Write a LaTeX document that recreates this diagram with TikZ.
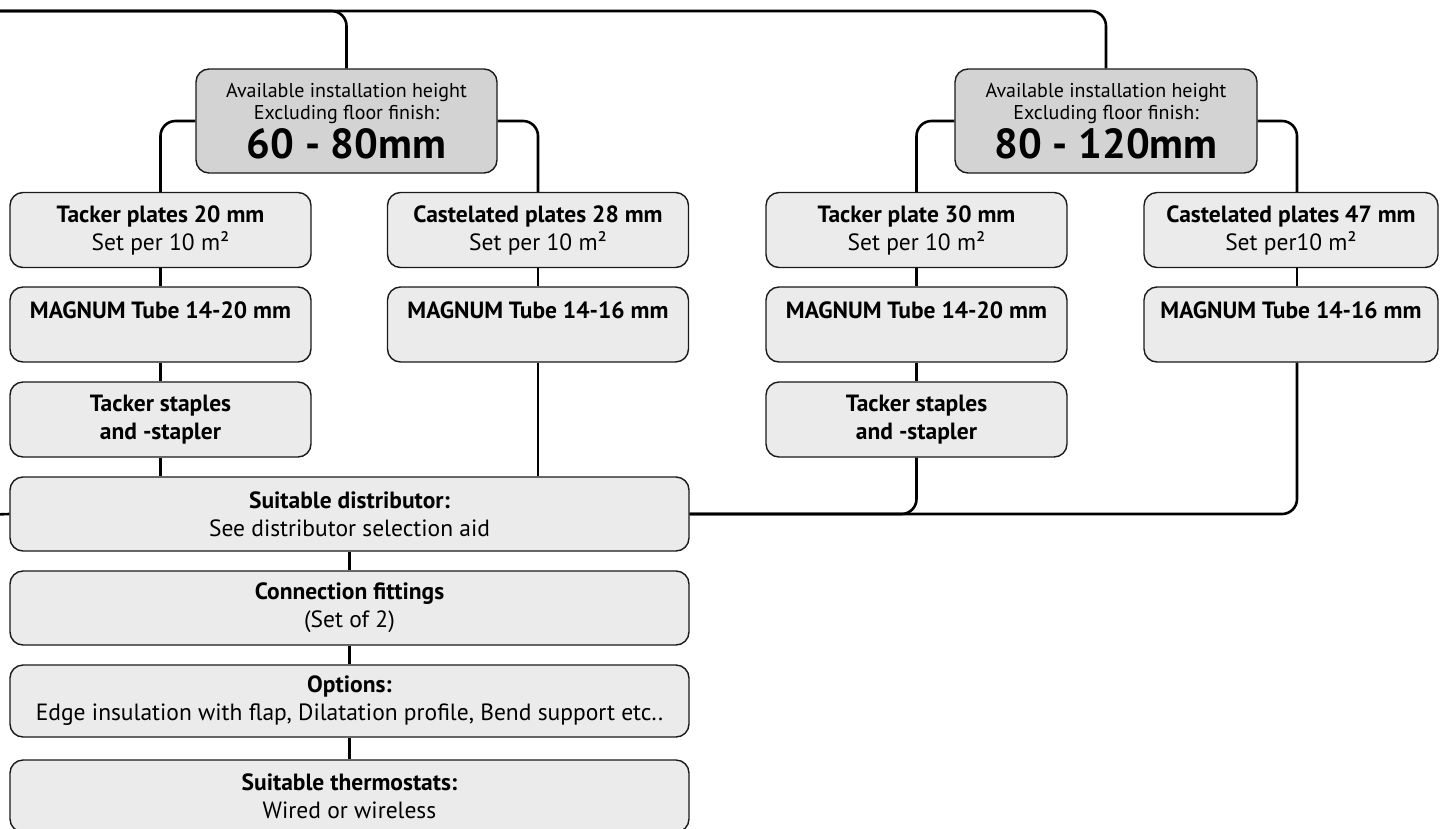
\documentclass[tikz,border=0pt]{standalone}
\usepackage{fontspec}
\setmainfont{PT Sans}
\definecolor{boxgray}{HTML}{EBEBEB}
\definecolor{headgray}{HTML}{D3D3D3}
\definecolor{edge}{HTML}{1A1A1A}
\begin{document}
\begin{tikzpicture}[x=1pt,y=-1pt,
  box/.style={draw=edge, line width=1.4pt, fill=boxgray, rounded corners=13pt,
    minimum width=301pt, minimum height=75pt, inner sep=0pt, align=center,
    font=\fontsize{23.5}{28}\selectfont},
  headbox/.style={box, fill=headgray, minimum height=104pt, font=\fontsize{20}{22}\selectfont},
  wide/.style={box, minimum width=679pt},
  conn/.style={line width=2.6pt, black, rounded corners=15pt}
]
\useasboundingbox (0,0) rectangle (1440,828);
\clip (0,0) rectangle (1440,828);

% headers
\node[headbox] (h1) at (346.5,121) {Available installation height\\Excluding floor finish:\\[4pt]{\fontsize{42}{46}\selectfont\bfseries 60 - 80mm}};
\node[headbox, minimum width=302pt] (h2) at (1106,121) {Available installation height\\Excluding floor finish:\\[4pt]{\fontsize{42}{46}\selectfont\bfseries 80 - 120mm}};

% row 1
\node[box] (t1) at (160.5,230) {\textbf{Tacker plates 20 mm}\\Set per 10 m²};
\node[box] (c2) at (538,230) {\textbf{Castelated plates 28 mm}\\Set per 10 m²};
\node[box] (t3) at (916.5,230) {\textbf{Tacker plate 30 mm}\\Set per 10 m²};
\node[box, minimum width=294pt] (c4) at (1291,230) {\textbf{Castelated plates 47 mm}\\Set per10 m²};

% row 2
\node[box] (m1) at (160.5,324.5) {\textbf{MAGNUM Tube 14-20 mm}\\~};
\node[box] (m2) at (538,324.5) {\textbf{MAGNUM Tube 14-16 mm}\\~};
\node[box] (m3) at (916.5,324.5) {\textbf{MAGNUM Tube 14-20 mm}\\~};
\node[box, minimum width=294pt] (m4) at (1291,324.5) {\textbf{MAGNUM Tube 14-16 mm}\\~};

% row 3
\node[box] (s1) at (160.5,419.5) {\textbf{Tacker staples}\\\textbf{and -stapler}};
\node[box] (s3) at (916.5,419.5) {\textbf{Tacker staples}\\\textbf{and -stapler}};

% common chain
\node[wide, minimum height=74pt] (dist) at (349.5,514) {\textbf{Suitable distributor:}\\See distributor selection aid};
\node[wide, minimum height=74pt] (conn) at (349.5,608) {\textbf{Connection fittings}\\(Set of 2)};
\node[wide, minimum height=72pt] (opt) at (349.5,701) {\textbf{Options:}\\Edge insulation with flap, Dilatation profile, Bend support etc..};
\node[wide, minimum height=72pt] (thermo) at (349.5,796) {\textbf{Suitable thermostats:}\\Wired or wireless};

% free ends outside the picture
\coordinate (tl) at (-20,11);
\coordinate (bl) at (-20,515);

% connectors
\draw[conn] (dist.west) -- (bl) -- (tl) -| (h2.north);
\draw[conn] (tl) -| (h1.north);
\draw[conn] (h1.west) -| (t1.north);
\draw[conn] (h1.east) -| (c2.north);
\draw[conn] (h2.west) -| (t3.north);
\draw[conn] (h2.east) -| ([xshift=6pt]c4.north);

\draw[conn] (t1) -- (m1);
\draw[conn] (m1) -- (s1);
\draw[conn] (s1.south) -- (s1.south |- dist.north);
\draw[conn] (c2) -- (m2);
\draw[conn] (m2.south) -- (m2.south |- dist.north);
\draw[conn] (t3) -- (m3);
\draw[conn] (m3) -- (s3);
\draw[conn] ([xshift=6pt]c4.south) -- ([xshift=6pt]m4.north);
\draw[conn] (s3.south) |- (dist.east);
\draw[conn] ([xshift=6pt]m4.south) |- (dist.east);
\draw[conn] (dist) -- (conn);
\draw[conn] (conn) -- (opt);
\draw[conn] (opt) -- (thermo);
\end{tikzpicture}
\end{document}
